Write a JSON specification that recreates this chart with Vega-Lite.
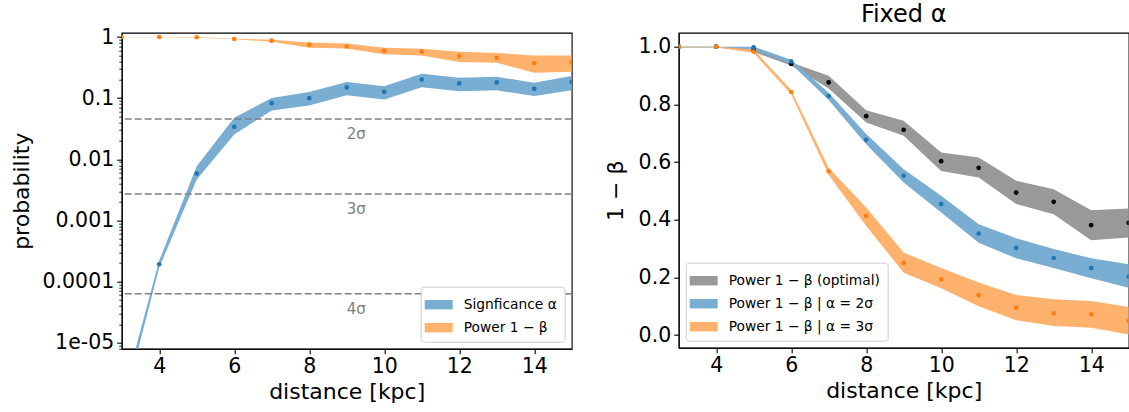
{
  "$schema": "https://vega.github.io/schema/vega-lite/v6.json",
  "background": "white",
  "padding": {"left": 9.7, "top": 1.7, "right": 0, "bottom": 5},
  "bounds": "flush",
  "spacing": 107,
  "resolve": {"scale": {"fill": "independent", "color": "independent"}, "legend": {"fill": "independent", "color": "independent"}},
  "config": {
    "font": "DejaVu Sans",
    "view": {"stroke": "black", "strokeWidth": 1.1},
    "axis": {
      "grid": false,
      "domainColor": "black",
      "tickColor": "black",
      "labelColor": "black",
      "titleColor": "black",
      "labelFont": "DejaVu Sans",
      "titleFont": "DejaVu Sans",
      "labelFontSize": 20.5,
      "titleFontSize": 22,
      "titleFontWeight": "normal",
      "tickSize": 5,
      "labelPadding": 3,
      "domainWidth": 1.1,
      "tickWidth": 1.1
    },
    "legend": {
      "title": null,
      "labelFont": "DejaVu Sans",
      "labelFontSize": 13.8,
      "labelColor": "black",
      "symbolType": "M-1.3,-0.44 L1.3,-0.44 L1.3,0.44 L-1.3,0.44 Z",
      "symbolSize": 462,
      "symbolStrokeWidth": 0,
      "symbolOpacity": 1,
      "strokeColor": "#cccccc",
      "fillColor": "white",
      "cornerRadius": 3,
      "padding": 7,
      "rowPadding": 5,
      "labelOffset": 14,
      "offset": 7
    },
    "title": {"font": "DejaVu Sans", "fontSize": 24, "fontWeight": "normal", "color": "black"}
  },
  "datasets": {
    "left": [
      {"d": 3, "series": "Signficance α", "value": 9e-7, "lo": 7e-7, "hi": 1.15e-6},
      {"d": 4, "series": "Signficance α", "value": 0.000192, "lo": 0.00017, "hi": 0.00022},
      {"d": 5, "series": "Signficance α", "value": 0.00583, "lo": 0.00467, "hi": 0.00768},
      {"d": 6, "series": "Signficance α", "value": 0.0339, "lo": 0.0254, "hi": 0.0478},
      {"d": 7, "series": "Signficance α", "value": 0.0828, "lo": 0.063, "hi": 0.101},
      {"d": 8, "series": "Signficance α", "value": 0.1, "lo": 0.076, "hi": 0.126},
      {"d": 9, "series": "Signficance α", "value": 0.15, "lo": 0.112, "hi": 0.183},
      {"d": 10, "series": "Signficance α", "value": 0.127, "lo": 0.095, "hi": 0.157},
      {"d": 11, "series": "Signficance α", "value": 0.202, "lo": 0.151, "hi": 0.25},
      {"d": 12, "series": "Signficance α", "value": 0.174, "lo": 0.13, "hi": 0.215},
      {"d": 13, "series": "Signficance α", "value": 0.181, "lo": 0.134, "hi": 0.224},
      {"d": 14, "series": "Signficance α", "value": 0.142, "lo": 0.108, "hi": 0.178},
      {"d": 15, "series": "Signficance α", "value": 0.185, "lo": 0.135, "hi": 0.23},
      {"d": 3, "series": "Power 1 − β", "value": 1.0, "lo": 0.99, "hi": 1.0},
      {"d": 4, "series": "Power 1 − β", "value": 1.0, "lo": 0.99, "hi": 1.0},
      {"d": 5, "series": "Power 1 − β", "value": 0.99, "lo": 0.975, "hi": 0.995},
      {"d": 6, "series": "Power 1 − β", "value": 0.927, "lo": 0.915, "hi": 0.94},
      {"d": 7, "series": "Power 1 − β", "value": 0.87, "lo": 0.84, "hi": 0.9},
      {"d": 8, "series": "Power 1 − β", "value": 0.748, "lo": 0.67, "hi": 0.81},
      {"d": 9, "series": "Power 1 − β", "value": 0.7, "lo": 0.65, "hi": 0.78},
      {"d": 10, "series": "Power 1 − β", "value": 0.597, "lo": 0.52, "hi": 0.667},
      {"d": 11, "series": "Power 1 − β", "value": 0.575, "lo": 0.5, "hi": 0.645},
      {"d": 12, "series": "Power 1 − β", "value": 0.488, "lo": 0.39, "hi": 0.575},
      {"d": 13, "series": "Power 1 − β", "value": 0.458, "lo": 0.38, "hi": 0.55},
      {"d": 14, "series": "Power 1 − β", "value": 0.375, "lo": 0.26, "hi": 0.5},
      {"d": 15, "series": "Power 1 − β", "value": 0.385, "lo": 0.27, "hi": 0.5}
    ],
    "sigma": [
      {"p": 0.0455, "label": "2σ"},
      {"p": 0.0027, "label": "3σ"},
      {"p": 0.0000633, "label": "4σ"}
    ],
    "minor": [
      {"v": 2e-6}, {"v": 3e-6}, {"v": 4e-6}, {"v": 5e-6}, {"v": 6e-6}, {"v": 7e-6}, {"v": 8e-6}, {"v": 9e-6},
      {"v": 2e-5}, {"v": 3e-5}, {"v": 4e-5}, {"v": 5e-5}, {"v": 6e-5}, {"v": 7e-5}, {"v": 8e-5}, {"v": 9e-5},
      {"v": 2e-4}, {"v": 3e-4}, {"v": 4e-4}, {"v": 5e-4}, {"v": 6e-4}, {"v": 7e-4}, {"v": 8e-4}, {"v": 9e-4},
      {"v": 2e-3}, {"v": 3e-3}, {"v": 4e-3}, {"v": 5e-3}, {"v": 6e-3}, {"v": 7e-3}, {"v": 8e-3}, {"v": 9e-3},
      {"v": 0.02}, {"v": 0.03}, {"v": 0.04}, {"v": 0.05}, {"v": 0.06}, {"v": 0.07}, {"v": 0.08}, {"v": 0.09},
      {"v": 0.2}, {"v": 0.3}, {"v": 0.4}, {"v": 0.5}, {"v": 0.6}, {"v": 0.7}, {"v": 0.8}, {"v": 0.9}
    ],
    "right": [
      {"d": 3, "series": "Power 1 − β (optimal)", "value": 1.0, "lo": 0.997, "hi": 1.0},
      {"d": 4, "series": "Power 1 − β (optimal)", "value": 1.0, "lo": 0.997, "hi": 1.0},
      {"d": 5, "series": "Power 1 − β (optimal)", "value": 0.989, "lo": 0.982, "hi": 0.993},
      {"d": 6, "series": "Power 1 − β (optimal)", "value": 0.94, "lo": 0.935, "hi": 0.945},
      {"d": 7, "series": "Power 1 − β (optimal)", "value": 0.876, "lo": 0.855, "hi": 0.899},
      {"d": 8, "series": "Power 1 − β (optimal)", "value": 0.759, "lo": 0.737, "hi": 0.78},
      {"d": 9, "series": "Power 1 − β (optimal)", "value": 0.712, "lo": 0.691, "hi": 0.743},
      {"d": 10, "series": "Power 1 − β (optimal)", "value": 0.603, "lo": 0.569, "hi": 0.633},
      {"d": 11, "series": "Power 1 − β (optimal)", "value": 0.58, "lo": 0.546, "hi": 0.616},
      {"d": 12, "series": "Power 1 − β (optimal)", "value": 0.494, "lo": 0.454, "hi": 0.535},
      {"d": 13, "series": "Power 1 − β (optimal)", "value": 0.462, "lo": 0.419, "hi": 0.506},
      {"d": 14, "series": "Power 1 − β (optimal)", "value": 0.381, "lo": 0.329, "hi": 0.433},
      {"d": 15, "series": "Power 1 − β (optimal)", "value": 0.389, "lo": 0.338, "hi": 0.439},
      {"d": 3, "series": "Power 1 − β | α = 2σ", "value": 1.0, "lo": 0.998, "hi": 1.0},
      {"d": 4, "series": "Power 1 − β | α = 2σ", "value": 1.0, "lo": 0.998, "hi": 1.0},
      {"d": 5, "series": "Power 1 − β | α = 2σ", "value": 0.998, "lo": 0.99, "hi": 1.0},
      {"d": 6, "series": "Power 1 − β | α = 2σ", "value": 0.949, "lo": 0.94, "hi": 0.955},
      {"d": 7, "series": "Power 1 − β | α = 2σ", "value": 0.829, "lo": 0.815, "hi": 0.84},
      {"d": 8, "series": "Power 1 − β | α = 2σ", "value": 0.677, "lo": 0.662, "hi": 0.697},
      {"d": 9, "series": "Power 1 − β | α = 2σ", "value": 0.552, "lo": 0.529, "hi": 0.575},
      {"d": 10, "series": "Power 1 − β | α = 2σ", "value": 0.454, "lo": 0.425, "hi": 0.483},
      {"d": 11, "series": "Power 1 − β | α = 2σ", "value": 0.352, "lo": 0.32, "hi": 0.384},
      {"d": 12, "series": "Power 1 − β | α = 2σ", "value": 0.302, "lo": 0.266, "hi": 0.336},
      {"d": 13, "series": "Power 1 − β | α = 2σ", "value": 0.267, "lo": 0.232, "hi": 0.298},
      {"d": 14, "series": "Power 1 − β | α = 2σ", "value": 0.232, "lo": 0.197, "hi": 0.266},
      {"d": 15, "series": "Power 1 − β | α = 2σ", "value": 0.203, "lo": 0.164, "hi": 0.245},
      {"d": 3, "series": "Power 1 − β | α = 3σ", "value": 1.0, "lo": 0.998, "hi": 1.0},
      {"d": 4, "series": "Power 1 − β | α = 3σ", "value": 1.0, "lo": 0.998, "hi": 1.0},
      {"d": 5, "series": "Power 1 − β | α = 3σ", "value": 0.983, "lo": 0.978, "hi": 0.99},
      {"d": 6, "series": "Power 1 − β | α = 3σ", "value": 0.843, "lo": 0.835, "hi": 0.85},
      {"d": 7, "series": "Power 1 − β | α = 3σ", "value": 0.568, "lo": 0.555, "hi": 0.58},
      {"d": 8, "series": "Power 1 − β | α = 3σ", "value": 0.413, "lo": 0.378, "hi": 0.442},
      {"d": 9, "series": "Power 1 − β | α = 3σ", "value": 0.25, "lo": 0.216, "hi": 0.286},
      {"d": 10, "series": "Power 1 − β | α = 3σ", "value": 0.193, "lo": 0.162, "hi": 0.232},
      {"d": 11, "series": "Power 1 − β | α = 3σ", "value": 0.138, "lo": 0.1, "hi": 0.182},
      {"d": 12, "series": "Power 1 − β | α = 3σ", "value": 0.095, "lo": 0.051, "hi": 0.139},
      {"d": 13, "series": "Power 1 − β | α = 3σ", "value": 0.075, "lo": 0.031, "hi": 0.124},
      {"d": 14, "series": "Power 1 − β | α = 3σ", "value": 0.072, "lo": 0.025, "hi": 0.118},
      {"d": 15, "series": "Power 1 − β | α = 3σ", "value": 0.049, "lo": 0.002, "hi": 0.097}
    ]
  },
  "hconcat": [
    {
      "width": 450,
      "height": 316,
      "resolve": {"axis": {"y": "independent"}},
      "layer": [
        {
          "data": {"name": "left"},
          "mark": {"type": "area", "clip": true, "opacity": 1},
          "encoding": {
            "x": {"field": "d", "type": "quantitative", "scale": {"domain": [3, 15], "nice": false, "zero": false},
                  "axis": {"values": [4, 6, 8, 10, 12, 14], "title": "distance [kpc]", "titlePadding": 4}},
            "y": {"field": "lo", "type": "quantitative",
                  "scale": {"type": "log", "domain": [7.98e-6, 1.176], "nice": false},
                  "axis": {"orient": "left", "values": [0.00001, 0.0001, 0.001, 0.01, 0.1, 1],
                           "labelExpr": "datum.value >= 0.99 ? '1' : datum.value >= 0.099 ? '0.1' : datum.value >= 0.0099 ? '0.01' : datum.value >= 0.00099 ? '0.001' : datum.value >= 0.000099 ? '0.0001' : '1e-05'",
                           "title": "probability", "titlePadding": 8}},
            "y2": {"field": "hi"},
            "fill": {"field": "series", "type": "nominal",
                     "scale": {"domain": ["Signficance α", "Power 1 − β"], "range": ["#79add2", "#ffb26e"]},
                     "legend": {"orient": "bottom-right"}}
          }
        },
        {
          "data": {"name": "minor"},
          "mark": {"type": "tick", "opacity": 0},
          "encoding": {
            "y": {"field": "v", "type": "quantitative",
                  "axis": {"orient": "left", "values": [2e-6,3e-6,4e-6,5e-6,6e-6,7e-6,8e-6,9e-6,2e-5,3e-5,4e-5,5e-5,6e-5,7e-5,8e-5,9e-5,2e-4,3e-4,4e-4,5e-4,6e-4,7e-4,8e-4,9e-4,2e-3,3e-3,4e-3,5e-3,6e-3,7e-3,8e-3,9e-3,0.02,0.03,0.04,0.05,0.06,0.07,0.08,0.09,0.2,0.3,0.4,0.5,0.6,0.7,0.8,0.9],
                           "labels": false, "domain": false, "tickSize": 3, "tickWidth": 0.8, "title": null}}
          }
        },
        {
          "data": {"name": "sigma"},
          "mark": {"type": "rule", "strokeDash": [7, 3], "strokeWidth": 1.5, "color": "#808080"},
          "encoding": {"y": {"field": "p", "type": "quantitative", "axis": null}}
        },
        {
          "data": {"name": "sigma"},
          "mark": {"type": "text", "align": "left", "baseline": "alphabetic", "dy": 20, "fontSize": 15, "color": "#808080"},
          "encoding": {
            "x": {"datum": 9, "type": "quantitative"},
            "y": {"field": "p", "type": "quantitative", "axis": null},
            "text": {"field": "label"}
          }
        },
        {
          "data": {"name": "left"},
          "mark": {"type": "point", "filled": true, "size": 22, "opacity": 1, "clip": true},
          "encoding": {
            "x": {"field": "d", "type": "quantitative"},
            "y": {"field": "value", "type": "quantitative", "axis": null},
            "color": {"field": "series", "type": "nominal",
                      "scale": {"domain": ["Signficance α", "Power 1 − β"], "range": ["#1f77b4", "#ff7f0e"]},
                      "legend": null}
          }
        }
      ]
    },
    {
      "width": 450,
      "height": 315,
      "title": {"text": "Fixed α", "offset": 6},
      "data": {"name": "right"},
      "layer": [
        {
          "mark": {"type": "area", "clip": true, "opacity": 1},
          "encoding": {
            "x": {"field": "d", "type": "quantitative", "scale": {"domain": [3, 15], "nice": false, "zero": false},
                  "axis": {"values": [4, 6, 8, 10, 12, 14], "title": "distance [kpc]", "titlePadding": 4}},
            "y": {"field": "lo", "type": "quantitative",
                  "scale": {"domain": [-0.044, 1.0486], "nice": false, "zero": false},
                  "axis": {"values": [0, 0.2, 0.4, 0.6, 0.8, 1.0], "format": ".1f", "title": "1 − β", "titlePadding": 11}},
            "y2": {"field": "hi"},
            "fill": {"field": "series", "type": "nominal",
                     "scale": {"domain": ["Power 1 − β (optimal)", "Power 1 − β | α = 2σ", "Power 1 − β | α = 3σ"], "range": ["#999999", "#79add2", "#ffb26e"]},
                     "legend": {"orient": "bottom-left"}}
          }
        },
        {
          "mark": {"type": "point", "filled": true, "size": 22, "opacity": 1, "clip": true},
          "encoding": {
            "x": {"field": "d", "type": "quantitative"},
            "y": {"field": "value", "type": "quantitative"},
            "color": {"field": "series", "type": "nominal",
                      "scale": {"domain": ["Power 1 − β (optimal)", "Power 1 − β | α = 2σ", "Power 1 − β | α = 3σ"], "range": ["#000000", "#1f77b4", "#ff7f0e"]},
                      "legend": null}
          }
        }
      ]
    }
  ]
}
